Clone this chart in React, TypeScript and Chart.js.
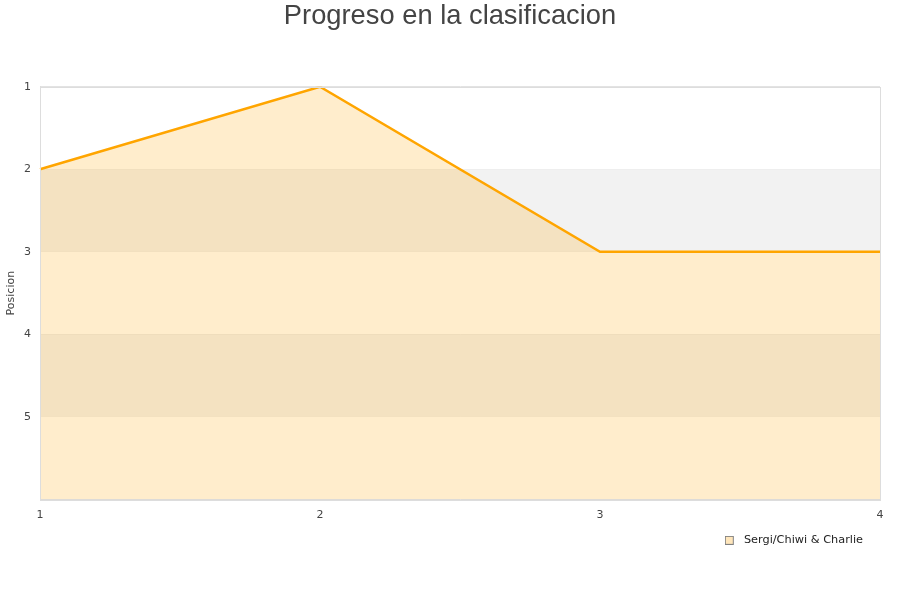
import React, { useEffect, useRef } from "react";
import { Chart, registerables } from "chart.js";

Chart.register(...registerables);

const TITLE = "Progreso en la clasificacion";
const SERIES_NAME = "Sergi/Chiwi & Charlie";
const ROUNDS = ["1", "2", "3", "4"];
const POSITIONS = [2, 1, 3, 3];
const Y_TITLE = "Posicion";
const Y_MIN = 1;
const Y_MAX = 6;

const bandsPlugin = {
  id: "bands",
  beforeDatasetsDraw(chart: any) {
    const { ctx, chartArea, scales } = chart;
    const y = scales.y;
    ctx.save();
    ctx.fillStyle = "#f2f2f2";
    for (let v = Y_MIN + 1; v < Y_MAX; v += 2) {
      const a = y.getPixelForValue(v);
      const b = y.getPixelForValue(v + 1);
      ctx.fillRect(chartArea.left, Math.min(a, b), chartArea.right - chartArea.left, Math.abs(b - a));
    }
    ctx.restore();
  },
  afterLayout(chart: any) {
    if (chart.legend) chart.legend.right -= 33;
  },
  afterDraw(chart: any) {
    const { ctx, chartArea } = chart;
    ctx.save();
    ctx.strokeStyle = "#dddddd";
    ctx.lineWidth = 1;
    ctx.strokeRect(
      Math.round(chartArea.left) + 0.5,
      Math.round(chartArea.top) + 0.5,
      Math.round(chartArea.right - chartArea.left),
      Math.round(chartArea.bottom - chartArea.top)
    );
    ctx.restore();
  },
};

function makeLegendBox() {
  const c = document.createElement("canvas");
  c.width = 16;
  c.height = 9;
  const g = c.getContext("2d");
  if (g) {
    g.fillStyle = "#ffe6bb";
    g.fillRect(0.5, 0.5, 8, 8);
    g.strokeStyle = "#808080";
    g.lineWidth = 1;
    g.strokeRect(0.5, 0.5, 8, 8);
  }
  return c;
}

export default function App() {
  const ref = useRef<HTMLCanvasElement | null>(null);
  useEffect(() => {
    document.body.style.margin = "0";
    if (!ref.current) return;
    const box = makeLegendBox();
    const chart = new Chart(ref.current, {
      type: "line",
      data: {
        labels: ROUNDS,
        datasets: [
          {
            label: SERIES_NAME,
            data: POSITIONS,
            borderColor: "#ffa500",
            backgroundColor: "rgba(255,165,0,0.2)",
            borderWidth: 2.5,
            pointRadius: 0,
            tension: 0,
            fill: "start",
          },
        ],
      },
      options: {
        animation: false,
        responsive: false,
        maintainAspectRatio: false,
        layout: { padding: { top: 0, right: 0, bottom: 44, left: 0 } },
        scales: {
          x: {
            offset: false,
            grid: { display: false, drawTicks: false },
            border: { color: "#dddddd" },
            ticks: {
              padding: 9,
              color: "#444444",
              font: { family: "DejaVu Sans", size: 11 },
              maxRotation: 0,
            },
          },
          y: {
            reverse: true,
            min: Y_MIN,
            max: Y_MAX,
            afterFit: (s: any) => {
              s.width = 40;
            },
            grid: { color: "#e3e3e3", drawTicks: false },
            border: { color: "#dddddd" },
            ticks: {
              stepSize: 1,
              padding: 9,
              color: "#444444",
              font: { family: "DejaVu Sans", size: 11 },
              callback: (v: any) => (Number(v) === Y_MAX ? "" : String(v)),
            },
            title: {
              display: true,
              text: Y_TITLE,
              color: "#444444",
              font: { family: "DejaVu Sans", size: 11 },
              padding: { top: 5, bottom: 4 },
            },
          },
          yr: {
            type: "linear",
            position: "right",
            display: true,
            grid: { display: false, drawTicks: false },
            border: { display: false },
            ticks: { display: false },
            afterFit: (s: any) => {
              s.width = 20;
            },
          },
        },
        plugins: {
          title: {
            display: true,
            text: TITLE,
            color: "#444444",
            font: { family: "Liberation Sans", size: 27.3, weight: "normal" },
            padding: { top: 0, bottom: 54 },
          },
          legend: {
            position: "bottom",
            align: "end",
            labels: {
              usePointStyle: true,
              boxWidth: 11,
              boxHeight: 9,
              padding: 4,
              color: "#222222",
              font: { family: "DejaVu Sans", size: 11.3 },
              generateLabels: (c: any) =>
                c.data.datasets.map((d: any, i: number) => ({
                  text: d.label,
                  pointStyle: box,
                  fillStyle: "#ffe6bb",
                  strokeStyle: "#808080",
                  lineWidth: 1,
                  hidden: false,
                  datasetIndex: i,
                  fontColor: "#222222",
                })),
            },
          },
          tooltip: { enabled: false },
        },
      },
      plugins: [bandsPlugin],
    });
    return () => chart.destroy();
  }, []);
  return <canvas ref={ref} width={900} height={600} style={{ display: "block" }} />;
}
